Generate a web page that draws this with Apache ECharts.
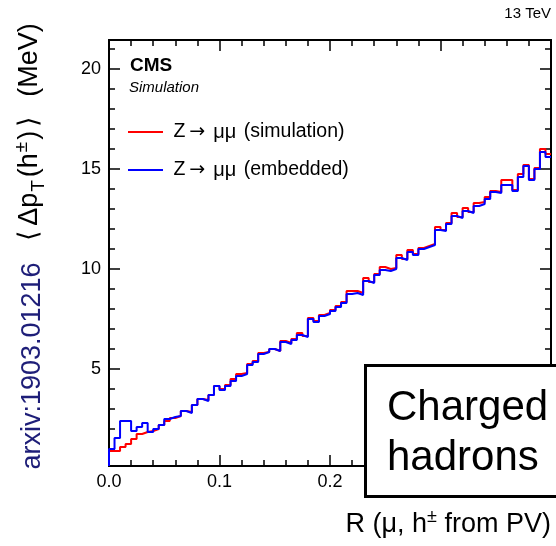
<!DOCTYPE html>
<html><head><meta charset="utf-8">
<script src="https://cdn.jsdelivr.net/npm/echarts@6/dist/echarts.min.js"></script>
<style>html,body{margin:0;padding:0;background:#fff}#c{width:556px;height:546px}</style>
</head><body><div id="c"></div>
<script>
// ---- data ----
const binWidth = 0.005;   // histogram bins from R = 0 to 0.4
const simulation = [
  0.9, 0.9, 1.1, 1.25, 1.5, 1.75, 1.85, 1.9, 2.0, 2.2, 2.4, 2.55, 2.65, 2.9,
  2.85, 3.2, 3.5, 3.45, 3.7, 4.15, 4.0, 4.2, 4.5, 4.75, 4.8, 5.25, 5.4, 5.8, 5.85,
  6.0, 5.9, 6.4, 6.3, 6.5, 6.8, 6.65, 7.55, 7.4, 7.7, 7.8, 7.95, 8.15,
  8.35, 8.9, 8.9, 8.8, 9.55, 9.35, 9.75, 10.1, 10.0, 10.05, 10.7, 10.5, 10.95,
  10.75, 11.05, 11.15, 11.25, 12.1, 11.95, 12.3, 12.8, 12.6, 13.05, 12.85, 13.3,
  13.35, 13.6, 13.9, 13.85, 14.45, 14.45, 13.95, 14.75, 15.2, 14.5, 15.05, 16.0, 15.75
];
const embedded = [
  1.0, 1.55, 2.4, 2.4, 1.9, 2.1, 2.3, 1.85, 2.0, 2.2, 2.5, 2.6, 2.65, 2.9,
  2.8, 3.2, 3.5, 3.4, 3.7, 4.15, 3.95, 4.15, 4.4, 4.65, 4.75, 5.2, 5.35, 5.75, 5.85,
  6.0, 5.9, 6.35, 6.25, 6.45, 6.7, 6.6, 7.5, 7.35, 7.65, 7.75, 7.9, 8.1,
  8.3, 8.75, 8.8, 8.7, 9.4, 9.3, 9.7, 9.95, 9.9, 10.0, 10.55, 10.45, 10.85,
  10.7, 11.0, 11.1, 11.2, 11.95, 11.9, 12.25, 12.65, 12.55, 12.9, 12.8, 13.15,
  13.25, 13.5, 13.85, 13.8, 14.2, 14.2, 13.9, 14.6, 15.15, 14.45, 15.0, 15.85, 15.6
];
const seriesNames = ['Z \u2192 \u03bc\u03bc (simulation)', 'Z \u2192 \u03bc\u03bc (embedded)'];
const yMajorTicks = [5, 10, 15, 20];
const yMinorTicks = [1, 2, 3, 4, 6, 7, 8, 9, 11, 12, 13, 14, 16, 17, 18, 19, 21];
const X_MIN = 0, X_MAX = 0.4, X_STEP = 0.1;
const Y_MIN = 0.15, Y_MAX = 21.45;

// ---- build ----
function stepData(vals) {
  const d = [[0, Y_MIN]];
  vals.forEach((v, i) => d.push([+(i * binWidth).toFixed(4), v]));
  d.push([+(vals.length * binWidth).toFixed(4), vals[vals.length - 1]]);
  return d;
}
const font = '"Liberation Sans", Arial, Helvetica, sans-serif';
const lineBlack = { color: '#000', width: 2 };
const tickStyle = { color: '#000', width: 1.5 };

function xAx(pos, showLabel) {
  return {
    type: 'value', position: pos, min: X_MIN, max: X_MAX, interval: X_STEP,
    axisLine: { show: true, onZero: false, lineStyle: lineBlack },
    axisTick: { show: true, inside: true, length: 11, lineStyle: tickStyle },
    minorTick: { show: true, splitNumber: 5, length: 6, lineStyle: tickStyle },
    axisLabel: { show: showLabel, fontSize: 18, color: '#000', fontFamily: font, margin: 7,
                 formatter: v => v.toFixed(1) },
    splitLine: { show: false }, minorSplitLine: { show: false }
  };
}
function yAx(pos, showLabel, values, len) {
  return {
    type: 'value', position: pos, min: Y_MIN, max: Y_MAX,
    axisLine: { show: true, onZero: false, lineStyle: lineBlack },
    axisTick: { show: true, inside: true, length: len, customValues: values, lineStyle: tickStyle },
    axisLabel: { show: showLabel, customValues: values, fontSize: 18, color: '#000', fontFamily: font, margin: 8 },
    splitLine: { show: false }
  };
}
const legendRich = {
  ar: { fontFamily: '"DejaVu Sans", sans-serif', fontSize: 19, color: '#000', padding: [0, 2, 0, 4] },
  mu: { fontFamily: font, fontSize: 20, color: '#000', padding: [0, 2, 0, 6] },
  t: { fontFamily: font, fontSize: 19.5, color: '#000' }
};

const chart = echarts.init(document.getElementById('c'), null, { renderer: 'canvas' });
chart.setOption({
  animation: false,
  backgroundColor: '#fff',
  grid: { left: 109, right: 5, top: 40, bottom: 80, containLabel: false, outerBoundsMode: 'none' },
  xAxis: [xAx('bottom', true), xAx('top', false)],
  yAxis: [
    yAx('left', true, yMajorTicks, 11),
    yAx('right', false, yMajorTicks, 11),
    yAx('left', false, yMinorTicks, 6),
    yAx('right', false, yMinorTicks, 6)
  ],
  legend: {
    left: 128, top: 122, padding: 0, orient: 'vertical', icon: 'rect', itemWidth: 35, itemHeight: 2, itemGap: 18,
    textStyle: { fontSize: 19.5, color: '#000', fontFamily: font, lineHeight: 20, rich: legendRich },
    formatter: name => {
      const m = name.match(/^(Z) \u2192 (\u03bc\u03bc) (.*)$/);
      return '{t| ' + m[1] + '}{ar|\u2192}{mu|' + m[2] + '}{t| ' + m[3] + '}';
    },
    data: seriesNames
  },
  series: [
    { name: seriesNames[0], type: 'line', step: 'end', symbol: 'none', data: stepData(simulation),
      lineStyle: { color: '#ff0000', width: 2 }, itemStyle: { color: '#ff0000' }, clip: true },
    { name: seriesNames[1], type: 'line', step: 'end', symbol: 'none', data: stepData(embedded),
      lineStyle: { color: '#0000ff', width: 2 }, itemStyle: { color: '#0000ff' }, clip: true }
  ],
  graphic: [
    { type: 'text', x: 551, y: 14, style: { text: '13 TeV', fontSize: 15, fontFamily: font, fill: '#000', align: 'right', verticalAlign: 'middle' } },
    { type: 'text', x: 130, y: 66, style: { text: 'CMS', fontSize: 19, fontWeight: 'bold', fontFamily: font, fill: '#000', align: 'left', verticalAlign: 'middle' } },
    { type: 'text', x: 129, y: 88, style: { text: 'Simulation', fontSize: 15, fontStyle: 'italic', fontFamily: font, fill: '#000', align: 'left', verticalAlign: 'middle' } },
    { type: 'text', x: 30, y: 134, rotation: Math.PI / 2,
      style: { text: '{b|\u27e8}{n|\u0394p}{sub|T}{n|(h}{sup|\u00b1}{n|)}{b|\u27e9}{n|  (MeV)}', align: 'center', verticalAlign: 'middle', fill: '#000',
        rich: { n: { fontSize: 27, lineHeight: 36, fontFamily: font, fill: '#000' },
                b: { fontSize: 27, lineHeight: 36, fontFamily: font, fill: '#000', padding: [0, 4, 0, 4] },
                sub: { fontSize: 19, lineHeight: 19, verticalAlign: 'bottom', fontFamily: font, fill: '#000', padding: [0, 3, 0, 1] },
                sup: { fontSize: 19, lineHeight: 19, verticalAlign: 'top', fontFamily: font, fill: '#000', padding: [0, 2, 0, 1] } } } },
    { type: 'text', x: 33, y: 366, rotation: Math.PI / 2,
      style: { text: 'arxiv:1903.01216', fontSize: 27, fontFamily: font, fill: '#1e1e78', align: 'center', verticalAlign: 'middle' } },
    { type: 'text', x: 551, y: 525,
      style: { text: '{n|R (\u03bc, h}{sup|\u00b1}{n| from PV)}', align: 'right', verticalAlign: 'middle', fill: '#000',
        rich: { n: { fontSize: 27, lineHeight: 34, fontFamily: font, fill: '#000' },
                sup: { fontSize: 18, lineHeight: 18, verticalAlign: 'top', fontFamily: font, fill: '#000' } } } },
    { type: 'rect', z: 100, shape: { x: 365.5, y: 365.5, width: 200, height: 131 },
      style: { fill: '#fff', stroke: '#000', lineWidth: 3 } },
    { type: 'text', z: 101, x: 387, y: 408, style: { text: 'Charged', fontSize: 42, fontFamily: font, fill: '#000', align: 'left', verticalAlign: 'middle' } },
    { type: 'text', z: 101, x: 387, y: 458, style: { text: 'hadrons', fontSize: 42, fontFamily: font, fill: '#000', align: 'left', verticalAlign: 'middle' } }
  ]
});
</script>
</body></html>
